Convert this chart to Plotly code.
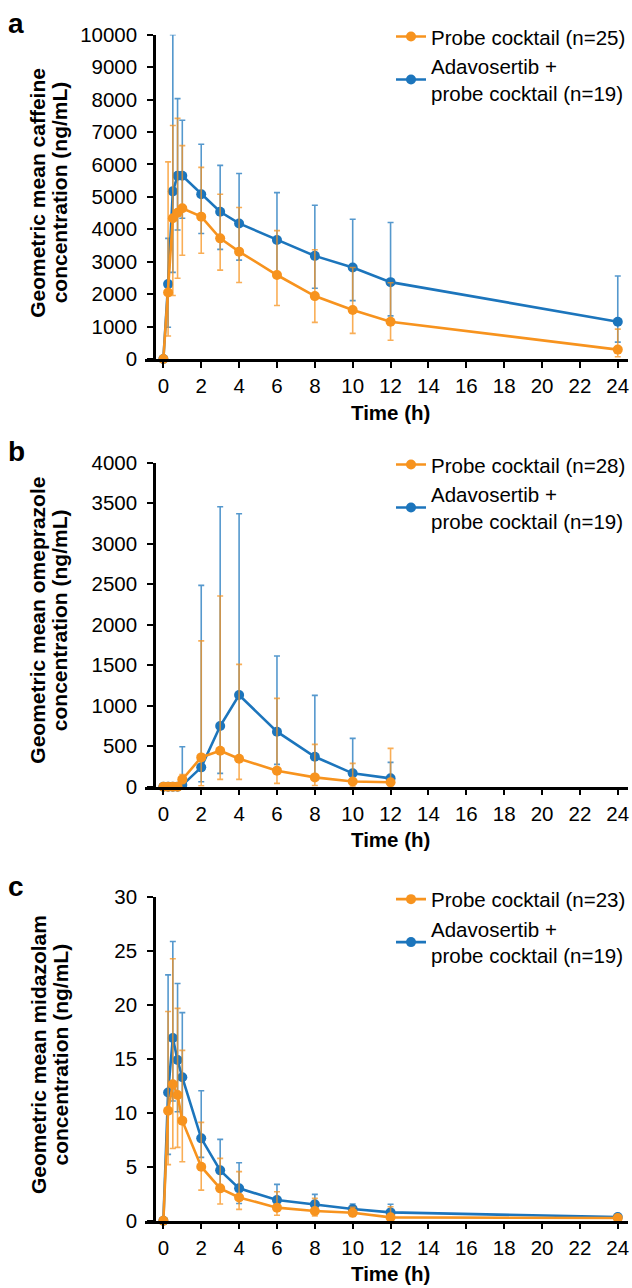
import plotly.graph_objects as go

W, H = 632, 1288

# ---------------- data ----------------
time_full = [0, 0.25, 0.5, 0.75, 1, 2, 3, 4, 6, 8, 10, 12, 24]
time_b = [0, 0.25, 0.5, 0.75, 1, 2, 3, 4, 6, 8, 10, 12]

# Panel a: caffeine (ng/mL)
caf_probe = [0, 2050, 4340, 4510, 4650, 4390, 3720, 3310, 2590, 1940, 1510, 1150, 290]
caf_probe_hi = [0, 6080, 7200, 7420, 6580, 5910, 5080, 4670, 3960, 3370, 2820, 2350, 920]
caf_probe_lo = [0, 710, 1960, 2490, 3200, 3260, 2740, 2360, 1650, 1130, 790, 580, 70]
caf_adav = [0, 2310, 5170, 5650, 5650, 5080, 4540, 4180, 3670, 3180, 2820, 2370, 1150]
caf_adav_hi = [0, 3720, 10000, 8030, 7360, 6620, 5970, 5720, 5130, 4740, 4310, 4210, 2560]
caf_adav_lo = [0, 980, 2670, 3980, 4340, 3870, 3380, 3050, 2620, 2180, 1800, 1330, 520]

# Panel b: omeprazole (ng/mL)
ome_probe = [0, 0, 0, 0, 90, 362, 444, 346, 198, 115, 65, 55]
ome_probe_hi = [0, 0, 0, 0, 150, 1800, 2354, 1510, 1090, 523, 288, 473]
ome_probe_lo = [0, 0, 0, 0, 40, 12, 90, 90, 41, 15, 5, 5]
ome_adav = [0, 0, 0, 0, 20, 239, 749, 1132, 679, 370, 165, 103]
ome_adav_hi = [0, 0, 0, 0, 494, 2486, 3457, 3370, 1613, 1128, 597, 300]
ome_adav_lo = [0, 0, 0, 0, 0, 62, 165, 380, 276, 120, 45, 35]

# Panel c: midazolam (ng/mL)
mid_probe = [0, 10.2, 12.65, 11.66, 9.28, 5.01, 3.0, 2.16, 1.21, 0.9, 0.74, 0.31, 0.25]
mid_probe_hi = [0, 19.4, 24.3, 19.7, 15.8, 9.12, 5.78, 4.55, 2.69, 2.07, 1.25, 1.3, 0.45]
mid_probe_lo = [0, 5.2, 6.7, 6.8, 5.47, 2.84, 1.55, 1.05, 0.5, 0.45, 0.4, 0.1, 0.1]
mid_adav = [0, 11.9, 16.95, 14.9, 13.3, 7.64, 4.67, 3.0, 1.92, 1.52, 1.08, 0.77, 0.34]
mid_adav_hi = [0, 22.8, 25.9, 22.0, 19.3, 12.06, 7.54, 5.38, 3.37, 2.44, 1.55, 1.52, 0.6]
mid_adav_lo = [0, 6.15, 11.1, 10.1, 9.2, 5.87, 2.9, 1.6, 1.1, 0.95, 0.75, 0.4, 0.2]

n_probe = [25, 28, 23]
n_adav = [19, 19, 19]
panel_letters = ["a", "b", "c"]
y_titles = [
    ["Geometric mean caffeine", "concentration (ng/mL)"],
    ["Geometric mean omeprazole", "concentration (ng/mL)"],
    ["Geometric mean midazolam", "concentration (ng/mL)"],
]
y_ranges = [[0, 10000], [0, 4000], [0, 30]]
y_dticks = [1000, 500, 5]
x_ticks = list(range(0, 25, 2))
x_range = [-0.97, 24.54]

# ---------------- style ----------------
ORANGE = "#F7931E"
BLUE = "#1C75BC"
ORANGE_EB = "rgba(247,147,30,0.75)"
BLUE_EB = "rgba(28,117,188,0.75)"
FONT = "Arial, Liberation Sans, Helvetica, sans-serif"
FS = 20.5


def px(x):
    return x / W


def py(y):
    return 1 - y / H


# plot-area pixel boxes (top, bottom) per panel
boxes = [(34.7, 359.0), (462.7, 786.7), (897.3, 1220.7)]
x_left, x_right, y_axis_x = 145, 628, 154

fig = go.Figure()

panels = [
    (time_full, caf_probe, caf_probe_hi, caf_probe_lo, caf_adav, caf_adav_hi, caf_adav_lo),
    (time_b, ome_probe, ome_probe_hi, ome_probe_lo, ome_adav, ome_adav_hi, ome_adav_lo),
    (time_full, mid_probe, mid_probe_hi, mid_probe_lo, mid_adav, mid_adav_hi, mid_adav_lo),
]

for i, (t, p, phi, plo, a, ahi, alo) in enumerate(panels):
    sfx = "" if i == 0 else str(i + 1)
    xa, ya = "x" + sfx, "y" + sfx
    leg = "legend" + sfx
    fig.add_trace(go.Scatter(
        x=t, y=a, mode="lines+markers", xaxis=xa, yaxis=ya,
        name="Adavosertib +<br>probe cocktail (n=%d)" % n_adav[i],
        line=dict(color=BLUE, width=2.6), marker=dict(color=BLUE, size=10),
        error_y=dict(type="data", symmetric=False,
                     array=[h - m for h, m in zip(ahi, a)],
                     arrayminus=[m - l for m, l in zip(a, alo)],
                     color=BLUE_EB, thickness=1.6, width=3),
        cliponaxis=False, legend=leg, legendrank=2,
    ))
    fig.add_trace(go.Scatter(
        x=t, y=p, mode="lines+markers", xaxis=xa, yaxis=ya,
        name="Probe cocktail (n=%d)" % n_probe[i],
        line=dict(color=ORANGE, width=2.6), marker=dict(color=ORANGE, size=10),
        error_y=dict(type="data", symmetric=False,
                     array=[h - m for h, m in zip(phi, p)],
                     arrayminus=[m - l for m, l in zip(p, plo)],
                     color=ORANGE_EB, thickness=1.6, width=3),
        cliponaxis=False, legend=leg, legendrank=1,
    ))

axis_common = dict(showline=True, linecolor="black", linewidth=2.5, ticks="outside",
                   ticklen=6, tickwidth=2.4, tickcolor="black", showgrid=False,
                   zeroline=False, automargin=False, tickformat="d",
                   tickfont=dict(family=FONT, size=FS, color="black"))

layout = dict(width=W, height=H, margin=dict(l=0, r=0, t=0, b=0, autoexpand=False),
              template="none",
              plot_bgcolor="rgba(0,0,0,0)", paper_bgcolor="white", showlegend=True,
              font=dict(family=FONT, color="black"))

annotations = []
for i in range(3):
    sfx = "" if i == 0 else str(i + 1)
    top, bot = boxes[i]
    layout["xaxis" + sfx] = dict(
        axis_common, domain=[px(x_left), px(x_right)], range=x_range,
        tickvals=x_ticks, anchor="y" + sfx, ticklabelstandoff=1)
    layout["yaxis" + sfx] = dict(
        axis_common, domain=[py(bot), py(top)], range=y_ranges[i], dtick=y_dticks[i],
        anchor="free", position=px(y_axis_x), ticklabelstandoff=6)
    layout["legend" + sfx] = dict(
        x=px(391), y=py(top - 18), xanchor="left", yanchor="top",
        bgcolor="rgba(0,0,0,0)", font=dict(family=FONT, size=FS, color="black"),
        tracegroupgap=0, itemwidth=30)
    # panel letter
    annotations.append(dict(text="<b>%s</b>" % panel_letters[i], x=px(16), y=py(top - 11),
                            xref="paper", yref="paper", showarrow=False,
                            xanchor="center", yanchor="middle",
                            font=dict(family=FONT, size=28, color="black")))
    # y title (two lines, separately placed)
    cy = (top + bot) / 2 - 4
    for j, line in enumerate(y_titles[i]):
        annotations.append(dict(text="<b>%s</b>" % line, x=px(38 + 21.5 * j), y=py(cy),
                                xref="paper", yref="paper", showarrow=False,
                                textangle=-90, xanchor="center", yanchor="middle",
                                font=dict(family=FONT, size=21, color="black")))
    # x title
    annotations.append(dict(text="<b>Time (h)</b>", x=px(390), y=py(bot + 53),
                            xref="paper", yref="paper", showarrow=False,
                            xanchor="center", yanchor="middle",
                            font=dict(family=FONT, size=FS, color="black")))

layout["annotations"] = annotations
fig.update_layout(**layout)
# remove the browser's default 8px body margin so the figure fills the window exactly
fig.write_html("out.html", config={"displayModeBar": False},
               post_script="document.body.style.margin='0';document.body.style.overflow='hidden';")
